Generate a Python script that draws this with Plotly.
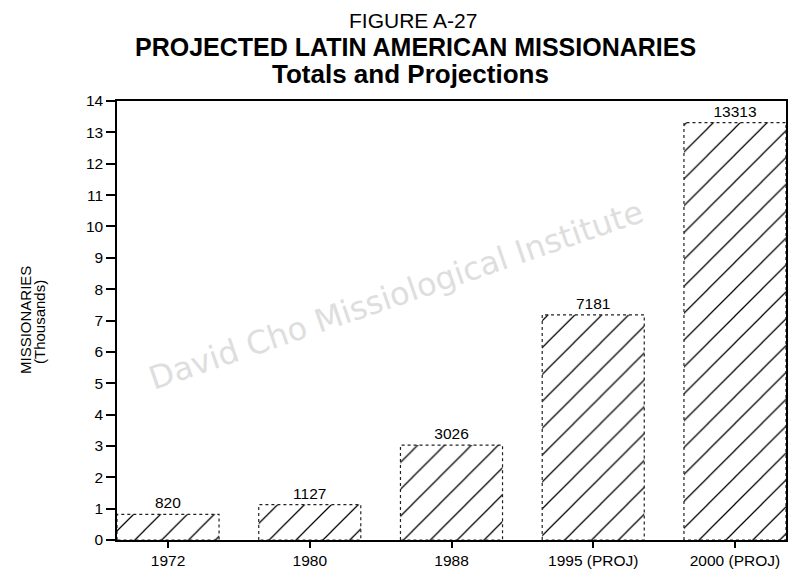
import plotly.graph_objects as go

categories = ["1972", "1980", "1988", "1995 (PROJ)", "2000 (PROJ)"]
missionaries = [820, 1127, 3026, 7181, 13313]
y_ticks = list(range(0, 15))

FONT = "Liberation Sans, Arial, Helvetica, sans-serif"
xs = list(range(len(categories)))
vals_k = [v / 1000 for v in missionaries]
W = 0.72

# page has an 8px body margin; figure is sized to fit inside the window
OFF = 8
FW, FH = 792, 576
L, R, T, B = 109, 14, 93, 44

fig = go.Figure()
fig.add_trace(go.Bar(
    x=xs, y=vals_k, width=W,
    text=[str(v) for v in missionaries], textposition="outside",
    textfont=dict(family=FONT, size=15.5, color="black"),
    marker=dict(color="white", line=dict(width=0),
                pattern=dict(shape="/", fgcolor="black", bgcolor="white",
                             fgopacity=1, fillmode="replace",
                             size=19, solidity=0.065)),
    cliponaxis=False, showlegend=False, hoverinfo="skip",
))
for i, v in zip(xs, vals_k):
    fig.add_trace(go.Scatter(
        x=[i - W / 2, i - W / 2, i + W / 2, i + W / 2, i - W / 2],
        y=[0, v, v, 0, 0], mode="lines",
        line=dict(color="#222", width=1.2, dash="dot"),
        showlegend=False, hoverinfo="skip",
    ))

def px(x, y):
    """page pixel -> paper coords"""
    return ((x - OFF - L) / (FW - L - R), (FH - B - (y - OFF)) / (FH - T - B))

ann = []
def add(text, x, y, size, angle=0, family=FONT, color="black"):
    ax, ay = px(x, y)
    ann.append(dict(text=text, x=ax, y=ay, xref="paper", yref="paper",
                    xanchor="center", yanchor="middle", showarrow=False,
                    textangle=angle, font=dict(family=family, size=size, color=color)))

add("FIGURE A-27", 413, 21, 21)
add("<b>PROJECTED LATIN AMERICAN MISSIONARIES</b>", 415, 47, 25)
add("<b>Totals and Projections</b>", 410, 74, 26)
add("MISSIONARIES", 25, 320, 15, angle=-90)
add("(Thousands)", 39, 322, 15, angle=-90)
add("David Cho Missiological Institute", 396, 295, 32, angle=-19,
    family="DejaVu Sans, Verdana, sans-serif", color="#dedede")

fig.update_layout(
    width=FW, height=FH,
    margin=dict(l=L, r=R, t=T, b=B),
    paper_bgcolor="white", plot_bgcolor="white",
    font=dict(family=FONT, color="black", size=15),
    xaxis=dict(range=[-W / 2, len(categories) - 1 + W / 2],
               tickvals=xs, ticktext=categories,
               ticks="outside", ticklen=6, tickwidth=1.5, tickcolor="black",
               showline=True, linecolor="black", linewidth=1.5, mirror=True,
               showgrid=False, zeroline=False,
               tickfont=dict(family=FONT, size=15.5, color="black")),
    yaxis=dict(range=[0, 14], tickvals=y_ticks,
               ticks="outside", ticklen=9, tickwidth=1.5, tickcolor="black",
               showline=True, linecolor="black", linewidth=1.5, mirror=True,
               showgrid=False, zeroline=False,
               tickfont=dict(family=FONT, size=15.5, color="black")),
    annotations=ann,
)

fig.write_html("out.html")
